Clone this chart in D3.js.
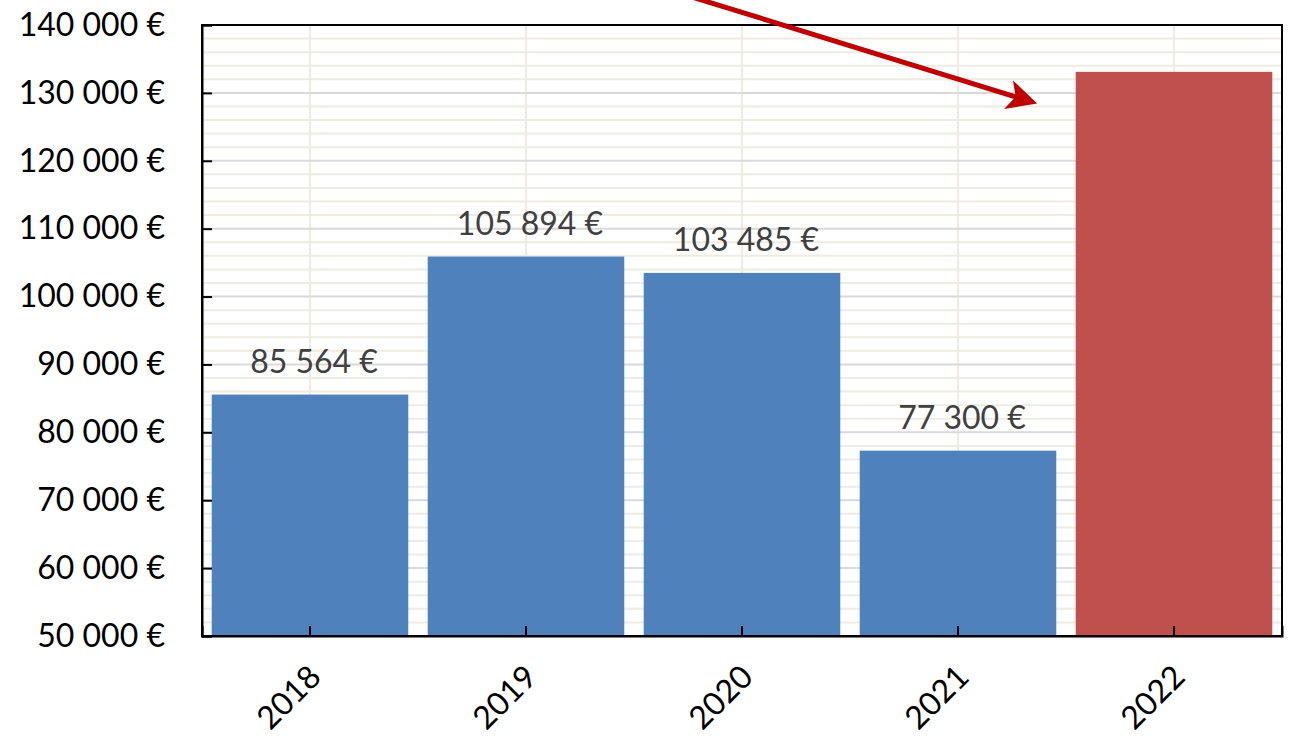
<!DOCTYPE html>
<html><head><meta charset="utf-8">
<script src="https://cdn.jsdelivr.net/npm/d3@7"></script>
<style>body{margin:0;background:#fff}svg{display:block}</style>
</head><body>
<svg id="chart" width="1289" height="738"></svg>
<script>
const categories = ["2018","2019","2020","2021","2022"];
const values = [85564, 105894, 103485, 77300, 133100];
const showLabel = [true, true, true, true, false];
const barColors = ["#4f81bd","#4f81bd","#4f81bd","#4f81bd","#c0504d"];
const yTicks = [50000,60000,70000,80000,90000,100000,110000,120000,130000,140000];
const yMinorTicks = d3.range(50000, 140001, 2000);
// arrow annotation: [category position (band units), value]
const arrowFrom = [2.24, 144400];
const arrowTo = [3.84, 128700];

const svg = d3.select("#chart");
const m = {left:202, right:1282, top:25, bottom:636};
const x = d3.scaleBand().domain(categories).range([m.left, m.right]).paddingInner(0.09).paddingOuter(0.045);
const y = d3.scaleLinear().domain([50000,140000]).range([m.bottom, m.top]);
const xc = d => x(d) + x.bandwidth()/2;
const bandUnit = (m.right - m.left)/categories.length;
const xPos = u => m.left + u*bandUnit;
const font = "Lato, 'Open Sans', sans-serif";
const fs = 32;

// minor gridlines
svg.append("g").selectAll("line").data(yMinorTicks.filter(v => v % 10000 !== 0)).join("line")
  .attr("x1", m.left).attr("x2", m.right).attr("y1", d=>y(d)).attr("y2", d=>y(d))
  .attr("stroke", "#eeece1").attr("stroke-width", 2);
// vertical gridlines
svg.append("g").selectAll("line").data(categories).join("line")
  .attr("x1", d=>xc(d)).attr("x2", d=>xc(d)).attr("y1", m.top).attr("y2", m.bottom)
  .attr("stroke", "#eeece1").attr("stroke-width", 2);
// major gridlines
svg.append("g").selectAll("line").data(yTicks).join("line")
  .attr("x1", m.left).attr("x2", m.right).attr("y1", d=>y(d)).attr("y2", d=>y(d))
  .attr("stroke", "#d9d9d9").attr("stroke-width", 2);

// bars
svg.append("g").selectAll("rect").data(values).join("rect")
  .attr("x", (d,i)=>x(categories[i])).attr("width", x.bandwidth())
  .attr("y", d=>y(d)).attr("height", d=>y(50000)-y(d))
  .attr("fill", (d,i)=>barColors[i]);

// value labels
const fmt = v => d3.format(",")(v).replace(/,/g, " ") + " €";
svg.append("g").selectAll("text").data(values.map((v,i)=>({v,i})).filter(d=>showLabel[d.i])).join("text")
  .attr("x", d=>xc(categories[d.i]) + 4).attr("y", d=>y(d.v) - 22)
  .attr("text-anchor", "middle").attr("font-family", font).attr("font-size", fs)
  .attr("fill", "#404040").text(d=>fmt(d.v));

// frame
svg.append("rect").attr("x", m.left).attr("y", m.top).attr("width", m.right-m.left).attr("height", m.bottom-m.top)
  .attr("fill", "none").attr("stroke", "#000").attr("stroke-width", 2);

// y axis
const yAxis = d3.axisLeft(y).tickValues(yTicks).tickSize(-10).tickPadding(37).tickFormat(fmt);
const gy = svg.append("g").attr("transform", `translate(${m.left},0)`).call(yAxis);
gy.select(".domain").attr("stroke", "#000").attr("stroke-width", 2);
gy.selectAll(".tick line").attr("stroke", "#000").attr("stroke-width", 2);
gy.selectAll(".tick text").attr("font-family", font).attr("font-size", fs).attr("fill", "#000");

// x axis
const xAxis = d3.axisBottom(x).tickSize(-10).tickPadding(0);
const gx = svg.append("g").attr("transform", `translate(0,${m.bottom})`).call(xAxis);
gx.select(".domain").attr("stroke", "#000").attr("stroke-width", 2);
gx.selectAll(".tick line").attr("stroke", "#000").attr("stroke-width", 2);
gx.selectAll(".tick text").attr("font-family", font).attr("font-size", fs).attr("fill", "#000")
  .attr("text-anchor", "end").attr("dy", null)
  .attr("transform", "translate(4,34) rotate(-45)").attr("y", 0).attr("x", 0)
  .attr("dominant-baseline", "central");

// arrow
const defs = svg.append("defs");
defs.append("marker").attr("id", "ah").attr("viewBox", "0 0 10 10").attr("refX", 8).attr("refY", 5)
  .attr("markerWidth", 6.5).attr("markerHeight", 6).attr("markerUnits", "strokeWidth").attr("orient", "auto")
  .append("path").attr("d", "M0,0 L10,5 L0,10 L2.5,5 Z").attr("fill", "#c00000");
svg.append("line")
  .attr("x1", xPos(arrowFrom[0])).attr("y1", y(arrowFrom[1]))
  .attr("x2", xPos(arrowTo[0])).attr("y2", y(arrowTo[1]))
  .attr("stroke", "#c00000").attr("stroke-width", 5).attr("marker-end", "url(#ah)");
</script>
</body></html>
